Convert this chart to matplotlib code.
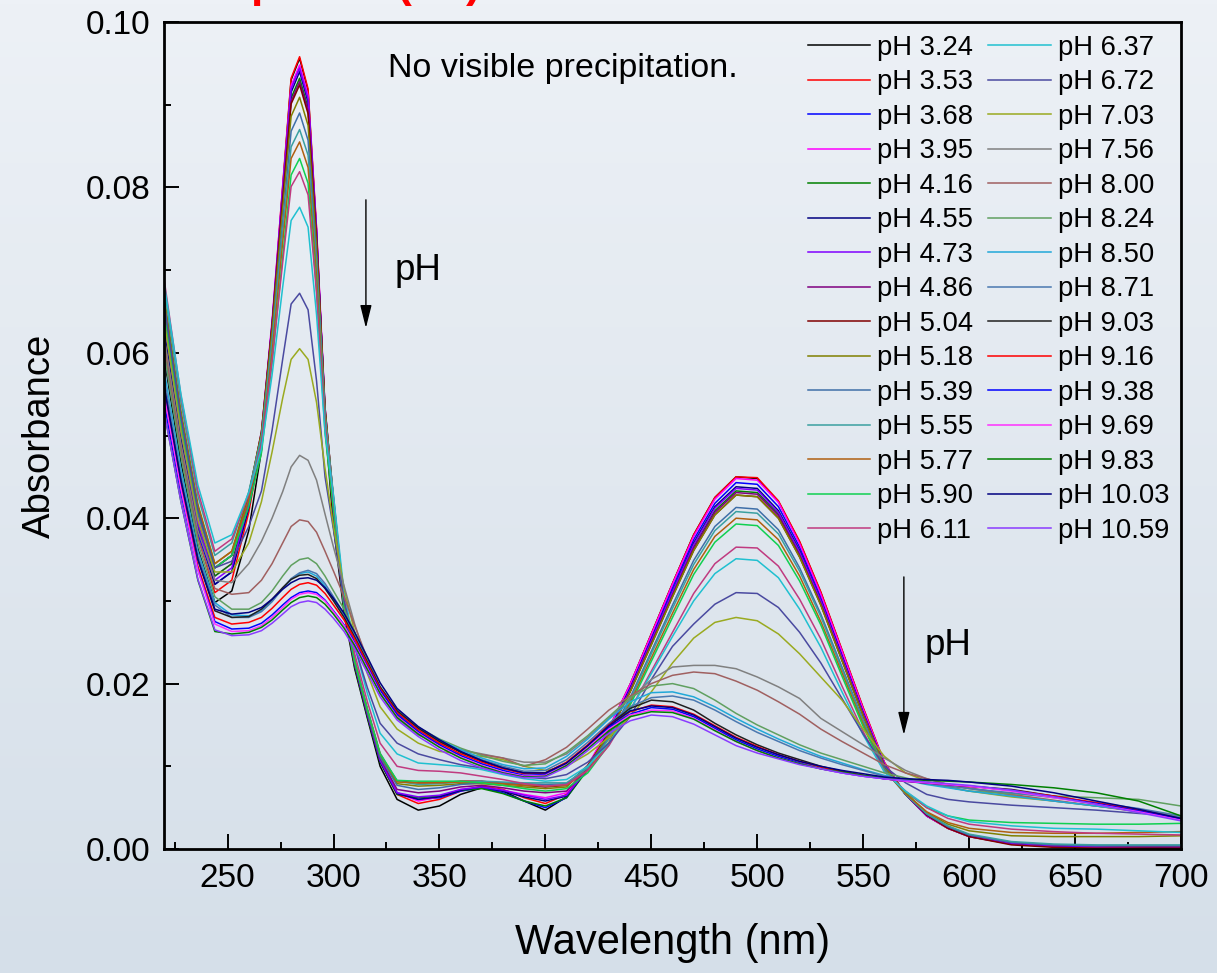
import numpy as np
import matplotlib
matplotlib.use("Agg")
import matplotlib.pyplot as plt
from matplotlib.ticker import MultipleLocator, FormatStrFormatter
from matplotlib.colors import LinearSegmentedColormap

plt.rcParams['font.family'] = ['Liberation Sans', 'DejaVu Sans']

# wavelength grid (nm)
wl = [220, 228, 236, 244, 252, 260, 266, 271, 276, 280, 284, 288, 292, 296, 300, 305, 310, 316, 322, 330,
      340, 350, 360, 370, 380, 390, 400,
      410, 420, 430, 440, 450, 460, 470, 480, 490, 500, 510, 520, 530, 540, 550, 560, 570, 580, 590, 600,
      620, 640, 660, 680, 700]

# absorbance, one list per pH
ph_324 = [.0595, .0467, .0363, .0298, .0312, .0385, .0482, .0627, .0798, .0930, .0956, .0917, .0745, .0515, .0390, .0285, .0218, .0158, .0100, .0060,
          .0047, .0052, .0066, .0074, .0070, .0058, .0047,
          .0063, .0099, .0145, .0199, .0260, .0321, .0380, .0425, .0450, .0448, .0420, .0371, .0310, .0240, .0170, .0104, .0066, .0040, .0025, .0015, .0006, .0003, .0002, .0002, .0001]
ph_353 = [.0620, .0487, .0378, .0310, .0325, .0407, .0491, .0634, .0802, .0932, .0958, .0919, .0751, .0524, .0401, .0290, .0222, .0162, .0106, .0066,
          .0055, .0060, .0070, .0076, .0072, .0062, .0055,
          .0066, .0100, .0146, .0199, .0260, .0321, .0380, .0425, .0450, .0449, .0421, .0372, .0311, .0241, .0171, .0105, .0066, .0040, .0025, .0016, .0007, .0004, .0003, .0002, .0002]
ph_368 = [.0600, .0480, .0382, .0320, .0335, .0414, .0495, .0633, .0796, .0921, .0946, .0908, .0746, .0527, .0408, .0293, .0224, .0163, .0107, .0068,
          .0060, .0062, .0070, .0074, .0068, .0058, .0050,
          .0062, .0098, .0142, .0196, .0256, .0316, .0374, .0418, .0443, .0441, .0414, .0365, .0305, .0236, .0167, .0103, .0066, .0040, .0026, .0016, .0007, .0004, .0003, .0003, .0003]
ph_395 = [.0660, .0518, .0403, .0330, .0345, .0423, .0503, .0639, .0800, .0923, .0948, .0911, .0750, .0534, .0417, .0295, .0225, .0164, .0108, .0068,
          .0058, .0063, .0072, .0075, .0071, .0066, .0062,
          .0068, .0101, .0146, .0199, .0259, .0320, .0378, .0423, .0448, .0446, .0419, .0369, .0308, .0239, .0169, .0104, .0066, .0040, .0025, .0015, .0006, .0003, .0002, .0002, .0002]
ph_416 = [.0610, .0490, .0392, .0330, .0345, .0420, .0499, .0631, .0788, .0908, .0932, .0896, .0739, .0529, .0414, .0290, .0221, .0160, .0105, .0066,
          .0062, .0064, .0071, .0073, .0067, .0058, .0052,
          .0062, .0096, .0139, .0191, .0250, .0309, .0365, .0409, .0433, .0431, .0405, .0357, .0298, .0231, .0163, .0101, .0067, .0042, .0027, .0017, .0008, .0005, .0004, .0003, .0003]
ph_455 = [.0630, .0497, .0388, .0320, .0335, .0413, .0494, .0630, .0791, .0915, .0940, .0903, .0742, .0525, .0407, .0292, .0223, .0162, .0106, .0067,
          .0060, .0063, .0071, .0075, .0070, .0063, .0058,
          .0064, .0097, .0141, .0194, .0253, .0312, .0370, .0414, .0438, .0436, .0409, .0361, .0301, .0233, .0165, .0102, .0066, .0041, .0026, .0016, .0007, .0004, .0003, .0003, .0002]
ph_473 = [.0640, .0505, .0394, .0325, .0340, .0418, .0498, .0635, .0795, .0919, .0944, .0907, .0746, .0529, .0412, .0293, .0224, .0163, .0107, .0068,
          .0063, .0065, .0072, .0075, .0071, .0065, .0060,
          .0065, .0097, .0140, .0193, .0252, .0311, .0368, .0412, .0436, .0434, .0407, .0359, .0300, .0232, .0164, .0101, .0066, .0041, .0026, .0016, .0007, .0004, .0003, .0003, .0002]
ph_486 = [.0650, .0517, .0408, .0340, .0355, .0428, .0505, .0634, .0787, .0904, .0928, .0893, .0740, .0534, .0422, .0296, .0226, .0165, .0110, .0072,
          .0068, .0070, .0075, .0077, .0074, .0070, .0068,
          .0070, .0098, .0139, .0191, .0249, .0307, .0364, .0407, .0431, .0429, .0403, .0355, .0297, .0229, .0162, .0100, .0067, .0042, .0027, .0017, .0008, .0005, .0004, .0003, .0003]
ph_504 = [.0660, .0522, .0410, .0340, .0355, .0428, .0504, .0632, .0784, .0901, .0924, .0889, .0737, .0533, .0422, .0298, .0228, .0168, .0114, .0082,
          .0080, .0080, .0082, .0082, .0079, .0077, .0075,
          .0077, .0101, .0140, .0190, .0247, .0305, .0361, .0404, .0428, .0426, .0400, .0353, .0295, .0228, .0161, .0099, .0066, .0041, .0025, .0015, .0005, .0002, .0001, .0001, .0001]
ph_518 = [.0670, .0530, .0417, .0345, .0360, .0430, .0503, .0627, .0774, .0886, .0909, .0875, .0729, .0531, .0424, .0298, .0228, .0167, .0112, .0079,
          .0076, .0077, .0079, .0079, .0077, .0075, .0073,
          .0075, .0100, .0139, .0190, .0247, .0305, .0361, .0404, .0428, .0426, .0400, .0353, .0295, .0228, .0161, .0100, .0068, .0044, .0030, .0022, .0016, .0015, .0015, .0015, .0016]
ph_539 = [.0640, .0511, .0406, .0340, .0355, .0423, .0494, .0615, .0758, .0868, .0890, .0857, .0714, .0522, .0417, .0296, .0227, .0166, .0111, .0077,
          .0072, .0074, .0078, .0080, .0080, .0079, .0078,
          .0079, .0099, .0135, .0183, .0239, .0295, .0349, .0390, .0413, .0411, .0386, .0340, .0284, .0220, .0156, .0097, .0066, .0042, .0027, .0017, .0008, .0005, .0004, .0004, .0004]
ph_555 = [.0680, .0540, .0427, .0355, .0370, .0432, .0499, .0613, .0746, .0849, .0870, .0839, .0705, .0525, .0427, .0300, .0230, .0170, .0116, .0082,
          .0078, .0079, .0081, .0082, .0081, .0080, .0080,
          .0080, .0098, .0133, .0180, .0236, .0291, .0344, .0385, .0408, .0406, .0381, .0336, .0281, .0217, .0154, .0096, .0066, .0043, .0028, .0018, .0009, .0006, .0005, .0005, .0005]
ph_577 = [.0660, .0525, .0414, .0345, .0360, .0422, .0488, .0600, .0733, .0835, .0855, .0824, .0692, .0513, .0416, .0295, .0227, .0168, .0115, .0081,
          .0080, .0080, .0081, .0080, .0079, .0077, .0076,
          .0077, .0095, .0129, .0177, .0231, .0285, .0338, .0378, .0400, .0398, .0374, .0330, .0275, .0213, .0151, .0095, .0067, .0045, .0032, .0025, .0020, .0019, .0019, .0020, .0021]
ph_590 = [.0650, .0517, .0408, .0340, .0355, .0414, .0479, .0588, .0716, .0815, .0835, .0805, .0677, .0503, .0409, .0292, .0226, .0168, .0115, .0083,
          .0082, .0082, .0082, .0080, .0077, .0073, .0070,
          .0073, .0092, .0126, .0174, .0227, .0280, .0332, .0371, .0393, .0391, .0367, .0324, .0271, .0209, .0148, .0095, .0069, .0050, .0040, .0035, .0032, .0031, .0030, .0030, .0031]
ph_611 = [.0690, .0548, .0433, .0360, .0375, .0429, .0489, .0590, .0709, .0801, .0819, .0791, .0672, .0511, .0424, .0302, .0236, .0178, .0128, .0100,
          .0095, .0094, .0092, .0088, .0084, .0079, .0076,
          .0078, .0095, .0125, .0168, .0215, .0262, .0309, .0345, .0365, .0364, .0342, .0302, .0254, .0197, .0142, .0094, .0070, .0050, .0037, .0030, .0024, .0021, .0019, .0018, .0017]
ph_637 = [.0685, .0550, .0440, .0370, .0380, .0431, .0484, .0573, .0679, .0760, .0776, .0752, .0646, .0504, .0427, .0310, .0245, .0188, .0140, .0115,
          .0104, .0102, .0100, .0096, .0090, .0085, .0082,
          .0084, .0100, .0128, .0168, .0212, .0257, .0300, .0333, .0351, .0349, .0328, .0290, .0244, .0190, .0138, .0093, .0070, .0052, .0040, .0033, .0028, .0025, .0024, .0022, .0020]
ph_672 = [.0660, .0522, .0410, .0340, .0348, .0390, .0433, .0506, .0592, .0659, .0672, .0652, .0566, .0450, .0386, .0300, .0245, .0195, .0152, .0128,
          .0115, .0108, .0102, .0098, .0092, .0087, .0085,
          .0090, .0105, .0128, .0160, .0205, .0245, .0272, .0296, .0310, .0309, .0292, .0262, .0225, .0182, .0139, .0100, .0080, .0066, .0060, .0057, .0053, .0050, .0047, .0043, .0040]
ph_703 = [.0640, .0505, .0398, .0335, .0335, .0370, .0420, .0480, .0545, .0592, .0605, .0592, .0540, .0460, .0390, .0315, .0262, .0212, .0172, .0145,
          .0128, .0118, .0115, .0112, .0108, .0100, .0095,
          .0100, .0115, .0135, .0160, .0190, .0225, .0255, .0274, .0280, .0276, .0260, .0236, .0208, .0180, .0145, .0112, .0092, .0082, .0075, .0070, .0063, .0058, .0052, .0046, .0040]
ph_756 = [.0620, .0490, .0385, .0325, .0322, .0345, .0372, .0400, .0432, .0462, .0476, .0470, .0446, .0405, .0365, .0318, .0272, .0225, .0188, .0158,
          .0138, .0127, .0120, .0115, .0110, .0105, .0105,
          .0115, .0135, .0158, .0182, .0205, .0220, .0222, .0222, .0218, .0208, .0196, .0182, .0158, .0142, .0126, .0110, .0095, .0085, .0078, .0073, .0065, .0058, .0052, .0046, .0040]
ph_800 = [.0610, .0482, .0376, .0315, .0308, .0310, .0325, .0345, .0370, .0390, .0398, .0396, .0383, .0360, .0336, .0305, .0270, .0230, .0195, .0162,
          .0140, .0128, .0120, .0114, .0110, .0100, .0108,
          .0123, .0145, .0168, .0185, .0200, .0210, .0214, .0212, .0203, .0192, .0178, .0163, .0145, .0130, .0116, .0102, .0092, .0085, .0078, .0074, .0066, .0059, .0052, .0045, .0038]
ph_824 = [.0600, .0475, .0370, .0305, .0290, .0290, .0298, .0312, .0330, .0343, .0350, .0352, .0345, .0330, .0312, .0290, .0262, .0228, .0196, .0168,
          .0147, .0133, .0122, .0113, .0106, .0101, .0103,
          .0117, .0137, .0160, .0183, .0197, .0200, .0194, .0180, .0164, .0150, .0138, .0126, .0116, .0108, .0100, .0092, .0086, .0080, .0075, .0070, .0067, .0064, .0062, .0060, .0052]
ph_850 = [.0580, .0460, .0360, .0298, .0283, .0282, .0288, .0300, .0315, .0326, .0333, .0335, .0330, .0318, .0302, .0282, .0257, .0225, .0194, .0166,
          .0146, .0132, .0120, .0110, .0102, .0097, .0098,
          .0112, .0133, .0157, .0178, .0189, .0190, .0184, .0172, .0158, .0145, .0133, .0122, .0112, .0104, .0096, .0089, .0083, .0078, .0074, .0070, .0064, .0058, .0052, .0046, .0038]
ph_871 = [.0570, .0452, .0355, .0295, .0280, .0280, .0287, .0299, .0315, .0327, .0334, .0337, .0333, .0321, .0305, .0284, .0258, .0226, .0195, .0166,
          .0145, .0130, .0118, .0108, .0100, .0094, .0095,
          .0108, .0129, .0152, .0172, .0183, .0185, .0180, .0168, .0154, .0141, .0130, .0119, .0110, .0102, .0095, .0088, .0083, .0079, .0076, .0073, .0068, .0062, .0056, .0049, .0040]
ph_903 = [.0560, .0445, .0350, .0288, .0280, .0281, .0290, .0302, .0316, .0326, .0331, .0332, .0327, .0315, .0300, .0280, .0256, .0226, .0196, .0167,
          .0146, .0130, .0117, .0106, .0098, .0092, .0092,
          .0104, .0125, .0150, .0170, .0180, .0178, .0168, .0152, .0138, .0126, .0116, .0108, .0100, .0094, .0089, .0085, .0082, .0080, .0078, .0076, .0072, .0064, .0055, .0046, .0036]
ph_916 = [.0550, .0437, .0342, .0280, .0272, .0274, .0280, .0291, .0304, .0314, .0320, .0322, .0319, .0309, .0295, .0277, .0254, .0224, .0194, .0165,
          .0144, .0128, .0115, .0105, .0097, .0091, .0092,
          .0105, .0126, .0150, .0166, .0174, .0172, .0163, .0149, .0135, .0124, .0114, .0106, .0099, .0093, .0089, .0085, .0082, .0080, .0078, .0076, .0071, .0064, .0056, .0047, .0037]
ph_938 = [.0540, .0430, .0338, .0275, .0266, .0267, .0273, .0283, .0295, .0304, .0310, .0312, .0310, .0301, .0288, .0271, .0250, .0221, .0192, .0163,
          .0142, .0126, .0113, .0103, .0095, .0089, .0090,
          .0103, .0124, .0147, .0163, .0171, .0169, .0160, .0146, .0132, .0121, .0112, .0104, .0097, .0092, .0088, .0085, .0082, .0080, .0078, .0076, .0071, .0063, .0055, .0046, .0036]
ph_969 = [.0550, .0435, .0337, .0272, .0263, .0264, .0270, .0280, .0292, .0302, .0308, .0310, .0308, .0300, .0287, .0270, .0248, .0219, .0189, .0160,
          .0140, .0124, .0111, .0101, .0093, .0088, .0089,
          .0102, .0123, .0145, .0162, .0168, .0167, .0158, .0144, .0130, .0119, .0110, .0103, .0097, .0092, .0088, .0085, .0082, .0080, .0078, .0076, .0070, .0062, .0054, .0045, .0035]
ph_983 = [.0530, .0420, .0325, .0263, .0260, .0262, .0268, .0277, .0289, .0298, .0304, .0306, .0304, .0296, .0284, .0267, .0246, .0217, .0188, .0159,
          .0139, .0123, .0110, .0100, .0092, .0087, .0088,
          .0101, .0121, .0143, .0160, .0166, .0165, .0157, .0143, .0130, .0119, .0110, .0103, .0097, .0093, .0089, .0086, .0084, .0083, .0082, .0081, .0078, .0074, .0068, .0058, .0040]
ph_1003 = [.0560, .0445, .0350, .0290, .0284, .0286, .0292, .0302, .0314, .0322, .0327, .0328, .0325, .0316, .0303, .0285, .0262, .0232, .0201, .0170,
           .0148, .0132, .0118, .0107, .0098, .0092, .0092,
           .0104, .0125, .0149, .0167, .0173, .0171, .0162, .0148, .0134, .0123, .0114, .0106, .0100, .0095, .0091, .0087, .0085, .0084, .0083, .0081, .0076, .0068, .0058, .0048, .0037]
ph_1059 = [.0530, .0420, .0326, .0265, .0258, .0259, .0264, .0273, .0284, .0293, .0298, .0300, .0298, .0290, .0279, .0263, .0242, .0213, .0184, .0156,
           .0136, .0120, .0107, .0098, .0091, .0086, .0087,
           .0099, .0119, .0140, .0155, .0162, .0160, .0151, .0138, .0125, .0116, .0109, .0102, .0097, .0092, .0088, .0085, .0083, .0081, .0079, .0077, .0071, .0063, .0054, .0044, .0034]

ph_labels = ['pH 3.24', 'pH 3.53', 'pH 3.68', 'pH 3.95', 'pH 4.16', 'pH 4.55', 'pH 4.73', 'pH 4.86',
             'pH 5.04', 'pH 5.18', 'pH 5.39', 'pH 5.55', 'pH 5.77', 'pH 5.90', 'pH 6.11',
             'pH 6.37', 'pH 6.72', 'pH 7.03', 'pH 7.56', 'pH 8.00', 'pH 8.24', 'pH 8.50', 'pH 8.71',
             'pH 9.03', 'pH 9.16', 'pH 9.38', 'pH 9.69', 'pH 9.83', 'pH 10.03', 'pH 10.59']

spectra = [ph_324, ph_353, ph_368, ph_395, ph_416, ph_455, ph_473, ph_486, ph_504, ph_518,
           ph_539, ph_555, ph_577, ph_590, ph_611, ph_637, ph_672, ph_703, ph_756, ph_800,
           ph_824, ph_850, ph_871, ph_903, ph_916, ph_938, ph_969, ph_983, ph_1003, ph_1059]

colors = ['#000000', '#ff0000', '#0000ff', '#ff00ff', '#008000', '#000080', '#8000ff', '#800080',
          '#800000', '#808000', '#3f6fa8', '#3a9fa0', '#b06010', '#10d050', '#c03a80',
          '#20c0d0', '#4a4aa0', '#9aaa20', '#808080', '#a06060', '#60a060', '#20a8d8', '#4a78b0',
          '#202020', '#ff0000', '#0000ff', '#ff30ff', '#008000', '#000080', '#8a3cff']

W, H = 1217, 973
fig = plt.figure(figsize=(W / 100, H / 100), dpi=100)

# bluish gradient background
bg = fig.add_axes([0, 0, 1, 1], zorder=0)
grad = np.linspace(1, 0, 256).reshape(-1, 1)
cm = LinearSegmentedColormap.from_list('bg', ['#d5dfe9', '#edf1f6'])
bg.imshow(grad, aspect='auto', cmap=cm, extent=[0, 1, 0, 1])
bg.axis('off')

ax = fig.add_axes([164 / W, 1 - 849 / H, (1181 - 164) / W, (849 - 22) / H], zorder=1)
ax.patch.set_alpha(0)

for y, c, lab in zip(spectra, colors, ph_labels):
    ax.plot(wl, y, color=c, lw=1.1, label=lab)

ax.set_xlim(220, 700)
ax.set_ylim(0, 0.10)
ax.xaxis.set_major_locator(MultipleLocator(50))
ax.xaxis.set_minor_locator(MultipleLocator(25))
ax.yaxis.set_major_locator(MultipleLocator(0.02))
ax.yaxis.set_minor_locator(MultipleLocator(0.01))
ax.yaxis.set_major_formatter(FormatStrFormatter('%.2f'))
ax.tick_params(which='both', direction='in', top=False, right=False, width=1.4, labelsize=24)
ax.tick_params(which='major', length=10.5, pad=10)
ax.tick_params(which='minor', length=5)
for s in ax.spines.values():
    s.set_linewidth(2)

ax.set_xlabel('Wavelength (nm)', fontsize=30, labelpad=21)
ax.set_ylabel('Absorbance', fontsize=27.5, labelpad=20)

ax.text(325.7, 0.0934, 'No visible precipitation.', fontsize=24.5, va='baseline')
ax.text(328.7, 0.0688, 'pH', fontsize=26.5, va='baseline')
ax.text(579.1, 0.0235, 'pH', fontsize=26.5, va='baseline')
arrow = dict(arrowstyle='-|>,head_length=1.4,head_width=0.35', mutation_scale=10,
             lw=1.0, color='black', shrinkA=0, shrinkB=0)
ax.annotate('', xy=(315.3, 0.063), xytext=(315.3, 0.0785), arrowprops=arrow)
ax.annotate('', xy=(569.2, 0.0138), xytext=(569.2, 0.0329), arrowprops=arrow)

ax.legend(ncol=2, fontsize=19.7, frameon=False, loc='upper left',
          bbox_to_anchor=(808 / W, 1 - 35 / H), bbox_transform=fig.transFigure,
          borderpad=0, borderaxespad=0, handlelength=2.27, handletextpad=0.26,
          columnspacing=0.55, labelspacing=0.31)

# red title fragments cut off at the top edge
red = dict(color='red', fontsize=32, fontweight='bold', va='baseline')
fig.text(250 / W, 1 + 3 / H, 'p', ha='left', **red)
fig.text(412 / W, 1 + 3 / H, '(', ha='right', **red)
fig.text(466 / W, 1 + 3 / H, ')', ha='left', **red)

fig.savefig('out.png', dpi=100)
